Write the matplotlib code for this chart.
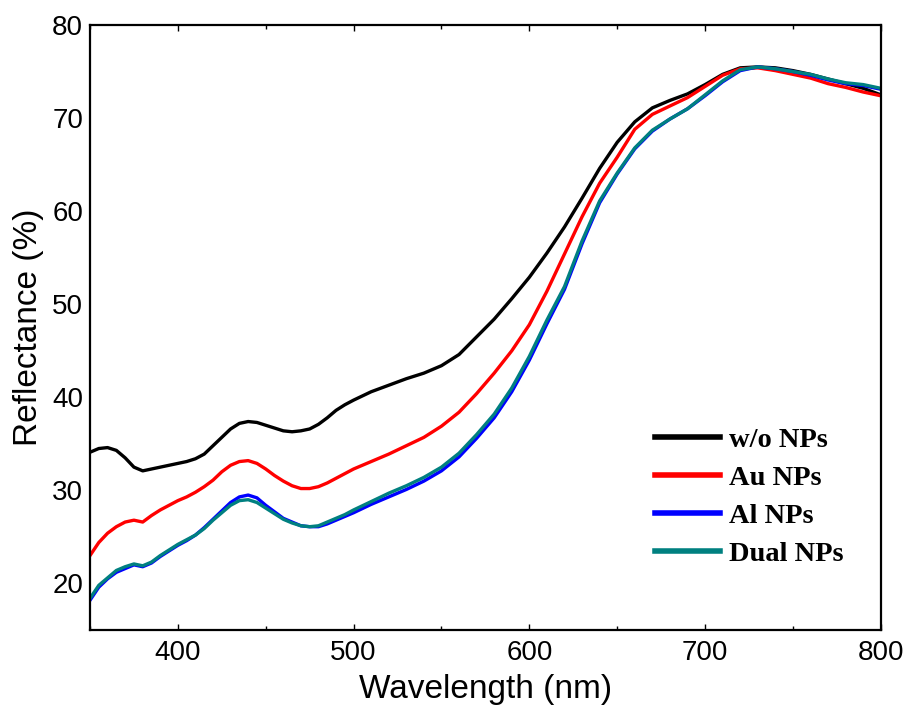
import numpy as np
import matplotlib
matplotlib.use("Agg")
import matplotlib.pyplot as plt
from matplotlib.ticker import MultipleLocator

# Siatka długości fali [nm]: co 5 nm do 495, dalej co 10 nm
wavelength = np.concatenate([np.arange(350, 500, 5), np.arange(500, 801, 10)])

# Reflektancja [%]
r_black = [34.1, 34.5, 34.6, 34.3, 33.5, 32.5, 32.1, 32.3, 32.5, 32.7,
           32.9, 33.1, 33.4, 33.9, 34.8, 35.7, 36.6, 37.2, 37.4, 37.3,
           37.0, 36.7, 36.4, 36.3, 36.4, 36.6, 37.1, 37.8, 38.6, 39.2,
           39.7, 40.6, 41.3, 42.0, 42.6, 43.4, 44.6, 46.5, 48.4, 50.6,
           52.9, 55.5, 58.3, 61.4, 64.6, 67.4, 69.6, 71.1, 71.9, 72.6,
           73.6, 74.7, 75.4, 75.5, 75.4, 75.1, 74.7, 74.2, 73.7, 73.2, 72.5]

r_au = [23.0, 24.4, 25.4, 26.1, 26.6, 26.8, 26.6, 27.3, 27.9, 28.4,
        28.9, 29.3, 29.8, 30.4, 31.1, 32.0, 32.7, 33.1, 33.2, 32.9,
        32.3, 31.6, 31.0, 30.5, 30.2, 30.2, 30.4, 30.8, 31.3, 31.8,
        32.3, 33.1, 33.9, 34.8, 35.7, 36.9, 38.4, 40.4, 42.6, 45.0,
        47.8, 51.4, 55.4, 59.4, 63.0, 65.8, 68.8, 70.4, 71.3, 72.2,
        73.4, 74.6, 75.3, 75.4, 75.1, 74.7, 74.3, 73.7, 73.3, 72.8, 72.4]

r_al = [18.2, 19.6, 20.5, 21.2, 21.6, 22.0, 21.8, 22.2, 22.9, 23.5,
        24.1, 24.6, 25.2, 26.0, 26.9, 27.8, 28.7, 29.3, 29.5, 29.2,
        28.4, 27.7, 27.0, 26.6, 26.2, 26.1, 26.1, 26.4, 26.8, 27.2,
        27.6, 28.5, 29.3, 30.1, 31.0, 32.1, 33.6, 35.6, 37.8, 40.6,
        44.0, 47.9, 51.6, 56.5, 60.9, 64.0, 66.7, 68.6, 69.9, 71.0,
        72.4, 73.9, 75.1, 75.5, 75.3, 75.0, 74.6, 74.1, 73.7, 73.5, 73.1]

r_dual = [18.4, 19.8, 20.6, 21.4, 21.8, 22.1, 21.9, 22.3, 23.0, 23.6,
          24.2, 24.7, 25.2, 25.9, 26.8, 27.6, 28.4, 28.9, 29.0, 28.7,
          28.1, 27.5, 26.9, 26.5, 26.2, 26.1, 26.2, 26.6, 27.0, 27.4,
          27.9, 28.8, 29.7, 30.5, 31.4, 32.5, 34.0, 36.0, 38.2, 41.0,
          44.4, 48.3, 51.9, 56.8, 61.1, 64.1, 66.8, 68.7, 69.9, 71.0,
          72.5, 74.0, 75.2, 75.5, 75.3, 75.0, 74.7, 74.2, 73.8, 73.6, 73.2]

labels = ["w/o NPs", "Au NPs", "Al NPs", "Dual NPs"]
colors = ["black", "#ff0000", "#0000ff", "#008080"]

plt.rcParams['font.family'] = ['Liberation Sans', 'DejaVu Sans']

fig = plt.figure(figsize=(9.09, 7.09), dpi=100)
ax = fig.add_axes([0.099, 0.1114, 0.870, 0.8533])

for y, lab, c in zip([r_black, r_au, r_al, r_dual], labels, colors):
    ax.plot(wavelength, y, color=c, lw=2.4, label=lab)

ax.set_xlim(350, 800)
ax.set_ylim(15, 80)
ax.xaxis.set_major_locator(MultipleLocator(100))
ax.xaxis.set_minor_locator(MultipleLocator(50))
ax.yaxis.set_major_locator(MultipleLocator(10))
ax.tick_params(axis='x', which='both', direction='in', top=True, labelsize=20, pad=7)
ax.tick_params(axis='x', which='major', length=4, width=1)
ax.tick_params(axis='x', which='minor', length=3, width=1)
ax.tick_params(axis='y', length=0, labelsize=20, pad=5)
for s in ax.spines.values():
    s.set_linewidth(1.6)

ax.set_xlabel("Wavelength (nm)", fontsize=24, labelpad=6)
ax.set_ylabel("Reflectance (%)", fontsize=24, labelpad=6)

leg = ax.legend(loc='center left', bbox_to_anchor=(0.714, 0.22), frameon=False,
                prop={'family': 'Liberation Serif', 'weight': 'bold', 'size': 20.5},
                handlelength=2.3, handletextpad=0.32, labelspacing=0.42,
                borderpad=0, borderaxespad=0)
for h in leg.get_lines():
    h.set_linewidth(4)

fig.savefig("out.png", dpi=100)
